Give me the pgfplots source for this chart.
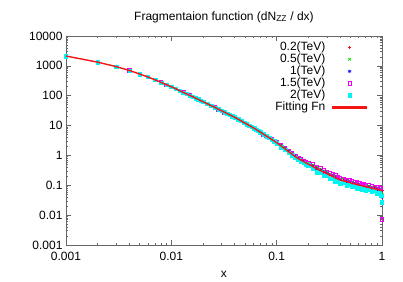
\documentclass[border=0pt]{standalone}
\usepackage{pgfplots}
\pgfplotsset{compat=1.18}
\usepackage{pgfplotstable}
\usepackage{fontspec}
\setmainfont{Liberation Sans}
\definecolor{gred}{RGB}{245,20,20}
\definecolor{ggreen}{RGB}{0,225,0}
\definecolor{gblue}{RGB}{20,20,245}
\definecolor{gmag}{RGB}{240,0,240}
\definecolor{gcyan}{RGB}{0,245,245}
\newcommand\fs{\fontsize{12bp}{14bp}\selectfont}
\pgfplotsset{
  markleg/.style={legend image code/.code={\draw[##1] plot coordinates {(16.5bp,0bp)};}},
  lineleg/.style={legend image code/.code={\fill[gred] (0bp,-0.65bp) rectangle (33bp,0.65bp);}},
}
\pgfplotstableread{
x y
0.001 2138
0.002 1330
0.003 940
0.004 703
0.005 532
0.006 424
0.007 341
0.008 279
0.009 234
0.010 200
0.011 171
0.012 148
0.013 129
0.014 115
0.015 102
0.016 91.9
0.017 83.0
0.018 75.3
0.019 68.5
0.020 62.9
0.022 53.5
0.024 46.1
0.026 40.2
0.028 35.3
0.030 31.3
0.032 27.9
0.034 25.2
0.036 22.8
0.038 20.7
0.040 18.9
0.043 16.4
0.046 14.3
0.049 12.6
0.052 11.2
0.055 10.0
0.058 9.00
0.061 8.13
0.064 7.35
0.067 6.63
0.070 6.01
0.075 5.14
0.080 4.45
0.085 3.89
0.090 3.42
0.095 3.02
0.100 2.69
}\low
\pgfplotstableread{
x r g b m c f
0.10 2.74 2.80 2.69 2.88 2.50 2.69
0.11 2.13 2.17 2.09 2.24 1.88 2.09
0.12 1.69 1.73 1.66 1.78 1.54 1.66
0.13 1.37 1.39 1.34 1.43 1.21 1.34
0.14 1.12 1.14 1.10 1.18 1.02 1.10
0.15 0.938 0.957 0.920 0.984 0.828 0.920
0.16 0.796 0.811 0.780 0.835 0.725 0.780
0.17 0.711 0.725 0.697 0.746 0.627 0.697
0.18 0.638 0.650 0.625 0.669 0.581 0.625
0.19 0.573 0.584 0.562 0.601 0.506 0.562
0.20 0.521 0.531 0.511 0.547 0.475 0.511
0.22 0.447 0.468 0.427 0.502 0.371 0.427
0.24 0.378 0.396 0.361 0.424 0.274 0.361
0.26 0.327 0.342 0.312 0.367 0.271 0.312
0.28 0.288 0.301 0.275 0.323 0.209 0.275
0.30 0.257 0.269 0.245 0.288 0.213 0.245
0.32 0.229 0.240 0.219 0.257 0.166 0.219
0.34 0.207 0.217 0.198 0.233 0.172 0.198
0.36 0.188 0.197 0.180 0.212 0.137 0.180
0.38 0.172 0.180 0.164 0.193 0.143 0.164
0.40 0.158 0.165 0.151 0.177 0.115 0.151
0.43 0.148 0.155 0.141 0.166 0.123 0.141
0.46 0.138 0.145 0.132 0.155 0.100 0.132
0.49 0.130 0.136 0.124 0.146 0.108 0.124
0.52 0.123 0.128 0.117 0.137 0.0889 0.117
0.55 0.116 0.122 0.111 0.130 0.0966 0.111
0.58 0.111 0.116 0.106 0.125 0.0806 0.106
0.61 0.106 0.111 0.101 0.119 0.0879 0.101
0.64 0.101 0.106 0.0966 0.114 0.0734 0.0966
0.67 0.0973 0.102 0.0929 0.109 0.0808 0.0929
0.70 0.0937 0.0981 0.0895 0.105 0.0680 0.0895
0.75 0.0884 0.0925 0.0844 0.0992 0.0734 0.0844
0.80 0.0837 0.0876 0.0799 0.0939 0.0607 0.0799
0.85 0.0795 0.0832 0.0759 0.0892 0.0660 0.0759
0.90 0.0757 0.0792 0.0723 0.0850 0.0549 0.0723
0.95 0.0722 0.0756 0.0690 0.0811 0.0600 0.0690
0.98 0.0704 0.0737 0.0672 0.0790 0.0450 0.0672
1.00 0.0692 0.0500 0.0400 0.0072 0.0270 0.0661
}\high
\begin{document}
\begin{tikzpicture}
\path[use as bounding box] (-66bp,-37bp) rectangle (337bp,245bp);
\begin{axis}[
  scale only axis, width=316bp, height=209bp,
  clip mode=individual,
  xmode=log, ymode=log,
  xmin=0.001, xmax=1, ymin=0.001, ymax=10000,
  xtick={0.001,0.01,0.1,1}, xticklabels={0.001,0.01,0.1,1},
  ytick={0.001,0.01,0.1,1,10,100,1000,10000},
  yticklabels={0.001,0.01,0.1,1,10,100,1000,10000},
  tick align=inside, major tick length=5bp, minor tick length=2.5bp,
  axis line style={black!60, line width=0.7bp},
  every tick/.style={black!60, line width=0.6bp},
  ticklabel style={font=\fs},
  xticklabel style={yshift=-4bp},
  label style={font=\fs},
  title style={font=\fs, yshift=4bp},
  title={Fragmentaion function (dN\textsubscript{ZZ} / dx)},
  xlabel={x},
  xlabel style={yshift=-3bp},
  legend plot pos=right,
  legend cell align=right,
  legend style={draw=none, fill=none, at={(0.962,0.985)}, anchor=north east,
    font=\fs, column sep=7bp,
    nodes={inner sep=0pt, text height=9bp, text depth=3bp}},
]
\addplot[only marks, mark=+, mark size=1.8bp, color=gred, mark options={line width=0.9bp}, forget plot] table[x=x,y=y]{\low};
\addplot[only marks, mark=+, mark size=1.8bp, color=gred, mark options={line width=0.9bp}, markleg] table[x=x,y=r]{\high};
\addlegendentry{0.2(TeV)}
\addplot[only marks, mark=x, mark size=1.8bp, color=ggreen, mark options={line width=0.7bp}, forget plot] table[x=x,y=y]{\low};
\addplot[only marks, mark=x, mark size=1.8bp, color=ggreen, mark options={line width=0.7bp}, markleg] table[x=x,y=g]{\high};
\addlegendentry{0.5(TeV)}
\addplot[only marks, mark=asterisk, mark size=1.8bp, color=gblue, mark options={line width=0.7bp}, forget plot] table[x=x,y=y]{\low};
\addplot[only marks, mark=asterisk, mark size=1.8bp, color=gblue, mark options={line width=0.7bp}, markleg] table[x=x,y=b]{\high};
\addlegendentry{1(TeV)}
\addplot[only marks, mark=square, mark size=1.7bp, color=gmag, mark options={line width=0.7bp}, forget plot] table[x=x,y=y]{\low};
\addplot[only marks, mark=square, mark size=1.7bp, color=gmag, mark options={line width=0.7bp}, markleg] table[x=x,y=m]{\high};
\addlegendentry{1.5(TeV)}
\addplot[only marks, mark=square*, mark size=1.7bp, color=gcyan, forget plot] table[x=x,y=y]{\low};
\addplot[only marks, mark=square*, mark size=1.7bp, color=gcyan, markleg] table[x=x,y=c]{\high};
\addlegendentry{2(TeV)}
\addplot[color=gred, line width=1.4bp, no marks, forget plot] table[x=x,y=y]{\low};
\addplot[color=gred, line width=1.4bp, no marks, lineleg] table[x=x,y=f]{\high};
\addlegendentry{Fitting Fn}
\end{axis}
\end{tikzpicture}
\end{document}
